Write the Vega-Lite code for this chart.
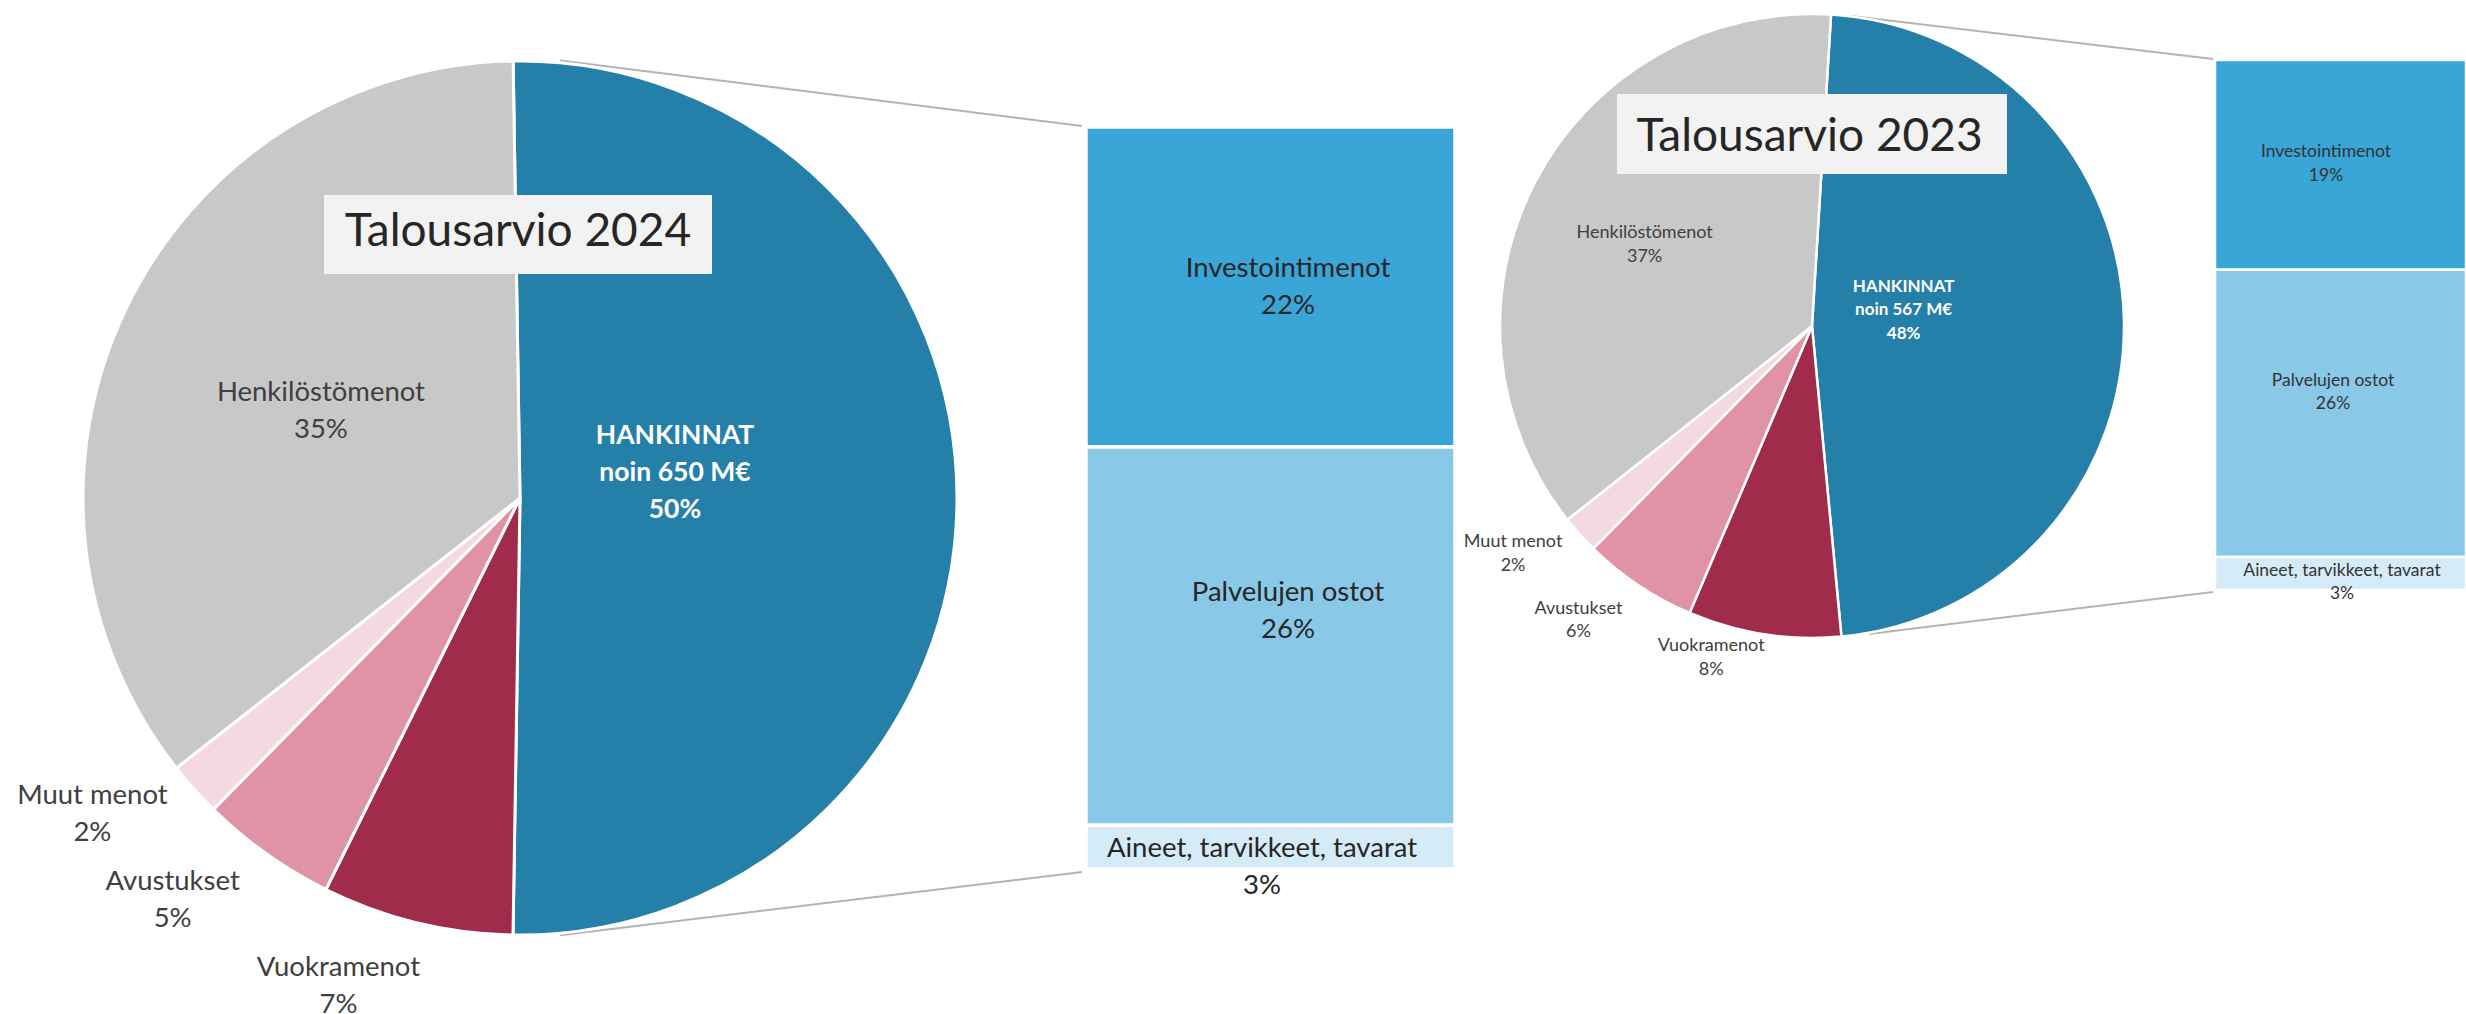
{
  "$schema": "https://vega.github.io/schema/vega-lite/v6.json",
  "padding": 0,
  "spacing": 0,
  "bounds": "flush",
  "background": "white",
  "config": {"view": {"stroke": null}, "font": "Lato", "text": {"font": "Lato"}},
  "resolve": {"scale": {"theta": "independent", "color": "independent", "x": "independent", "y": "independent"}},
  "datasets": {
    "pie2024": [
      {"category": "HANKINNAT", "share": 0.50, "idx": 1, "label": "HANKINNAT\nnoin 650 M€\n50%"},
      {"category": "Vuokramenot", "share": 0.07, "idx": 2, "label": "Vuokramenot\n7%"},
      {"category": "Avustukset", "share": 0.05, "idx": 3, "label": "Avustukset\n5%"},
      {"category": "Muut menot", "share": 0.02, "idx": 4, "label": "Muut menot\n2%"},
      {"category": "Henkilöstömenot", "share": 0.35, "idx": 5, "label": "Henkilöstömenot\n35%"}
    ],
    "pie2023": [
      {"category": "HANKINNAT", "share": 0.48, "idx": 1, "label": "HANKINNAT\nnoin 567 M€\n48%"},
      {"category": "Vuokramenot", "share": 0.08, "idx": 2, "label": "Vuokramenot\n8%"},
      {"category": "Avustukset", "share": 0.06, "idx": 3, "label": "Avustukset\n6%"},
      {"category": "Muut menot", "share": 0.02, "idx": 4, "label": "Muut menot\n2%"},
      {"category": "Henkilöstömenot", "share": 0.37, "idx": 5, "label": "Henkilöstömenot\n37%"}
    ],
    "bar2024": [
      {"year": "2024", "category": "Investointimenot", "share": 0.22, "idx": 1, "label": "Investointimenot\n22%"},
      {"year": "2024", "category": "Palvelujen ostot", "share": 0.26, "idx": 2, "label": "Palvelujen ostot\n26%"},
      {"year": "2024", "category": "Aineet, tarvikkeet, tavarat", "share": 0.03, "idx": 3, "label": "Aineet, tarvikkeet, tavarat\n3%"}
    ],
    "bar2023": [
      {"year": "2023", "category": "Investointimenot", "share": 0.19, "idx": 1, "label": "Investointimenot\n19%"},
      {"year": "2023", "category": "Palvelujen ostot", "share": 0.26, "idx": 2, "label": "Palvelujen ostot\n26%"},
      {"year": "2023", "category": "Aineet, tarvikkeet, tavarat", "share": 0.03, "idx": 3, "label": "Aineet, tarvikkeet, tavarat\n3%"}
    ],
    "titles": [
      {"year": 2024, "title": "Talousarvio 2024"},
      {"year": 2023, "title": "Talousarvio 2023"}
    ]
  },
  "hconcat": [
    {
      "width": 1040,
      "height": 996,
      "layer": [
        {
          "data": {"values": [{}]},
          "mark": {"type": "rule", "color": "#b4b4b4", "strokeWidth": 2},
          "encoding": {
            "x": {"datum": 0.0915, "type": "quantitative", "axis": null, "scale": {"domain": [-1.189931, 1.189931], "nice": false, "zero": false}},
            "y": {"datum": 1.00114, "type": "quantitative", "axis": null, "scale": {"domain": [-1.139588, 1.139588], "nice": false, "zero": false}},
            "x2": {"datum": 1.28604},
            "y2": {"datum": 0.85126}
          }
        },
        {
          "data": {"values": [{}]},
          "mark": {"type": "rule", "color": "#b4b4b4", "strokeWidth": 2},
          "encoding": {
            "x": {"datum": 0.0915, "type": "quantitative", "axis": null, "scale": {"domain": [-1.189931, 1.189931], "nice": false, "zero": false}},
            "y": {"datum": -1.00046, "type": "quantitative", "axis": null, "scale": {"domain": [-1.139588, 1.139588], "nice": false, "zero": false}},
            "x2": {"datum": 1.28604},
            "y2": {"datum": -0.85584}
          }
        },
        {
          "data": {"name": "pie2024"},
          "mark": {"type": "arc", "outerRadius": 437, "stroke": "white", "strokeWidth": 3},
          "encoding": {
            "theta": {"field": "share", "type": "quantitative", "stack": true, "scale": {"range": [-0.0157, 6.267485]}},
            "order": {"field": "idx", "type": "quantitative"},
            "color": {"field": "category", "type": "nominal", "legend": null,
              "scale": {"domain": ["HANKINNAT", "Vuokramenot", "Avustukset", "Muut menot", "Henkilöstömenot", "Investointimenot", "Palvelujen ostot", "Aineet, tarvikkeet, tavarat"],
                        "range": ["#2580a9", "#a02b4b", "#e092a7", "#f5d9e0", "#c8c8c8", "#3aa5d7", "#89c8e7", "#d5ebf7"]}}
          }
        },
        {
          "data": {"name": "pie2024"},
          "mark": {"type": "text", "radius": 157, "thetaOffset": -0.1606, "dy": -37, "fontSize": 26.5, "fontWeight": "bold", "color": "white", "lineBreak": "\n", "lineHeight": 37, "align": "center", "baseline": "middle"},
          "encoding": {
            "theta": {"field": "share", "type": "quantitative", "stack": true, "scale": {"range": [-0.0157, 6.267485]}},
            "order": {"field": "idx", "type": "quantitative"},
            "detail": {"field": "category"},
            "text": {"condition": {"test": "datum.category === 'HANKINNAT'", "field": "label"}, "value": ""}
          }
        },
        {
          "data": {"name": "pie2024"},
          "mark": {"type": "text", "radius": 217, "thetaOffset": -0.035, "dy": -18.5, "fontSize": 27.5, "color": "#404040", "lineBreak": "\n", "lineHeight": 37, "align": "center", "baseline": "middle"},
          "encoding": {
            "theta": {"field": "share", "type": "quantitative", "stack": true, "scale": {"range": [-0.0157, 6.267485]}},
            "order": {"field": "idx", "type": "quantitative"},
            "detail": {"field": "category"},
            "text": {"condition": {"test": "datum.category === 'Henkilöstömenot'", "field": "label"}, "value": ""}
          }
        },
        {
          "data": {"name": "pie2024"},
          "mark": {"type": "text", "radius": 532, "thetaOffset": 0.0925, "dy": -18.5, "fontSize": 27.5, "color": "#404040", "lineBreak": "\n", "lineHeight": 37, "align": "center", "baseline": "middle"},
          "encoding": {
            "theta": {"field": "share", "type": "quantitative", "stack": true, "scale": {"range": [-0.0157, 6.267485]}},
            "order": {"field": "idx", "type": "quantitative"},
            "detail": {"field": "category"},
            "text": {"condition": {"test": "indexof(['Avustukset', 'Muut menot'], datum.category) >= 0", "field": "label"}, "value": ""}
          }
        },
        {
          "data": {"name": "pie2024"},
          "mark": {"type": "text", "radius": 521, "thetaOffset": 0.1178, "dy": -18.5, "fontSize": 27.5, "color": "#404040", "lineBreak": "\n", "lineHeight": 37, "align": "center", "baseline": "middle"},
          "encoding": {
            "theta": {"field": "share", "type": "quantitative", "stack": true, "scale": {"range": [-0.0157, 6.267485]}},
            "order": {"field": "idx", "type": "quantitative"},
            "detail": {"field": "category"},
            "text": {"condition": {"test": "datum.category === 'Vuokramenot'", "field": "label"}, "value": ""}
          }
        },
        {
          "data": {"name": "titles"},
          "transform": [{"filter": "datum.year === 2024"}],
          "mark": {"type": "rect", "color": "#f2f2f2"},
          "encoding": {
            "x": {"datum": -0.44851, "type": "quantitative", "axis": null, "scale": {"domain": [-1.189931, 1.189931], "nice": false, "zero": false}},
            "x2": {"datum": 0.43936},
            "y": {"datum": 0.69336, "type": "quantitative", "axis": null, "scale": {"domain": [-1.139588, 1.139588], "nice": false, "zero": false}},
            "y2": {"datum": 0.51259}
          }
        },
        {
          "data": {"name": "titles"},
          "transform": [{"filter": "datum.year === 2024"}],
          "mark": {"type": "text", "fontSize": 46, "color": "#262626", "align": "center", "baseline": "alphabetic"},
          "encoding": {
            "x": {"datum": -0.0046, "type": "quantitative", "axis": null, "scale": {"domain": [-1.189931, 1.189931], "nice": false, "zero": false}},
            "y": {"datum": 0.57735, "type": "quantitative", "axis": null, "scale": {"domain": [-1.139588, 1.139588], "nice": false, "zero": false}},
            "text": {"field": "title", "type": "nominal"}
          }
        }
      ]
    },
    {
      "width": 435,
      "height": 1014,
      "layer": [
        {
          "data": {"name": "bar2024"},
          "mark": {"type": "bar", "stroke": "white", "strokeWidth": 3.5},
          "encoding": {
            "x": {"field": "year", "type": "nominal", "axis": null, "scale": {"paddingInner": 0, "paddingOuter": 0.08943, "align": 0.69697}},
            "y": {"field": "share", "type": "quantitative", "stack": true, "axis": null, "scale": {"domain": [-0.08729, 0.60966], "reverse": true, "nice": false, "zero": false}},
            "order": {"field": "idx", "type": "quantitative"},
            "color": {"field": "category", "type": "nominal", "legend": null,
              "scale": {"domain": ["HANKINNAT", "Vuokramenot", "Avustukset", "Muut menot", "Henkilöstömenot", "Investointimenot", "Palvelujen ostot", "Aineet, tarvikkeet, tavarat"],
                        "range": ["#2580a9", "#a02b4b", "#e092a7", "#f5d9e0", "#c8c8c8", "#3aa5d7", "#89c8e7", "#d5ebf7"]}}
          }
        },
        {
          "data": {"name": "bar2024"},
          "mark": {"type": "text", "fontSize": 27.5, "color": "#262626", "lineBreak": "\n", "lineHeight": 37, "align": "center", "baseline": "middle", "dx": 17.5, "dy": -18.5},
          "encoding": {
            "x": {"field": "year", "type": "nominal", "axis": null, "scale": {"paddingInner": 0, "paddingOuter": 0.08943, "align": 0.69697}},
            "y": {"field": "share", "type": "quantitative", "stack": true, "bandPosition": 0.5, "axis": null, "scale": {"domain": [-0.08729, 0.60966], "reverse": true, "nice": false, "zero": false}},
            "order": {"field": "idx", "type": "quantitative"},
            "detail": {"field": "category"},
            "text": {"condition": {"test": "datum.category === 'Investointimenot'", "field": "label"}, "value": ""}
          }
        },
        {
          "data": {"name": "bar2024"},
          "mark": {"type": "text", "fontSize": 27.5, "color": "#262626", "lineBreak": "\n", "lineHeight": 37, "align": "center", "baseline": "middle", "dx": 17.5, "dy": -43.5},
          "encoding": {
            "x": {"field": "year", "type": "nominal", "axis": null, "scale": {"paddingInner": 0, "paddingOuter": 0.08943, "align": 0.69697}},
            "y": {"field": "share", "type": "quantitative", "stack": true, "bandPosition": 0.5, "axis": null, "scale": {"domain": [-0.08729, 0.60966], "reverse": true, "nice": false, "zero": false}},
            "order": {"field": "idx", "type": "quantitative"},
            "detail": {"field": "category"},
            "text": {"condition": {"test": "datum.category === 'Palvelujen ostot'", "field": "label"}, "value": ""}
          }
        },
        {
          "data": {"name": "bar2024"},
          "mark": {"type": "text", "fontSize": 27.5, "color": "#262626", "lineBreak": "\n", "lineHeight": 37, "align": "center", "baseline": "middle", "dx": -8.5, "dy": 2},
          "encoding": {
            "x": {"field": "year", "type": "nominal", "axis": null, "scale": {"paddingInner": 0, "paddingOuter": 0.08943, "align": 0.69697}},
            "y": {"field": "share", "type": "quantitative", "stack": true, "bandPosition": 0.5, "axis": null, "scale": {"domain": [-0.08729, 0.60966], "reverse": true, "nice": false, "zero": false}},
            "order": {"field": "idx", "type": "quantitative"},
            "detail": {"field": "category"},
            "text": {"condition": {"test": "datum.category === 'Aineet, tarvikkeet, tavarat'", "field": "label"}, "value": ""}
          }
        }
      ]
    },
    {
      "width": 674,
      "height": 652,
      "layer": [
        {
          "data": {"values": [{}]},
          "mark": {"type": "rule", "color": "#b4b4b4", "strokeWidth": 2},
          "encoding": {
            "x": {"datum": 0.125, "type": "quantitative", "axis": null, "scale": {"domain": [-1.080128, 1.080128], "nice": false, "zero": false}},
            "y": {"datum": 0.99359, "type": "quantitative", "axis": null, "scale": {"domain": [-1.044872, 1.044872], "nice": false, "zero": false}},
            "x2": {"datum": 1.28526},
            "y2": {"datum": 0.85577}
          }
        },
        {
          "data": {"values": [{}]},
          "mark": {"type": "rule", "color": "#b4b4b4", "strokeWidth": 2},
          "encoding": {
            "x": {"datum": 0.18269, "type": "quantitative", "axis": null, "scale": {"domain": [-1.080128, 1.080128], "nice": false, "zero": false}},
            "y": {"datum": -0.98718, "type": "quantitative", "axis": null, "scale": {"domain": [-1.044872, 1.044872], "nice": false, "zero": false}},
            "x2": {"datum": 1.28526},
            "y2": {"datum": -0.85256}
          }
        },
        {
          "data": {"name": "pie2023"},
          "mark": {"type": "arc", "outerRadius": 312, "stroke": "white", "strokeWidth": 2.5},
          "encoding": {
            "theta": {"field": "share", "type": "quantitative", "stack": true, "scale": {"range": [0.061087, 6.344272]}},
            "order": {"field": "idx", "type": "quantitative"},
            "color": {"field": "category", "type": "nominal", "legend": null,
              "scale": {"domain": ["HANKINNAT", "Vuokramenot", "Avustukset", "Muut menot", "Henkilöstömenot", "Investointimenot", "Palvelujen ostot", "Aineet, tarvikkeet, tavarat"],
                        "range": ["#2580a9", "#a02b4b", "#e092a7", "#f5d9e0", "#c8c8c8", "#3aa5d7", "#89c8e7", "#d5ebf7"]}}
          }
        },
        {
          "data": {"name": "pie2023"},
          "mark": {"type": "text", "radius": 93, "thetaOffset": -0.156, "dy": -23.5, "fontSize": 17, "fontWeight": "bold", "color": "white", "lineBreak": "\n", "lineHeight": 23.5, "align": "center", "baseline": "middle"},
          "encoding": {
            "theta": {"field": "share", "type": "quantitative", "stack": true, "scale": {"range": [0.061087, 6.344272]}},
            "order": {"field": "idx", "type": "quantitative"},
            "detail": {"field": "category"},
            "text": {"condition": {"test": "datum.category === 'HANKINNAT'", "field": "label"}, "value": ""}
          }
        },
        {
          "data": {"name": "pie2023"},
          "mark": {"type": "text", "radius": 186, "thetaOffset": -0.03, "dy": -11.75, "fontSize": 18, "color": "#404040", "lineBreak": "\n", "lineHeight": 23.5, "align": "center", "baseline": "middle"},
          "encoding": {
            "theta": {"field": "share", "type": "quantitative", "stack": true, "scale": {"range": [0.061087, 6.344272]}},
            "order": {"field": "idx", "type": "quantitative"},
            "detail": {"field": "category"},
            "text": {"condition": {"test": "datum.category === 'Henkilöstömenot'", "field": "label"}, "value": ""}
          }
        },
        {
          "data": {"name": "pie2023"},
          "mark": {"type": "text", "radius": 376, "thetaOffset": 0.0803, "dy": -11.75, "fontSize": 18, "color": "#404040", "lineBreak": "\n", "lineHeight": 23.5, "align": "center", "baseline": "middle"},
          "encoding": {
            "theta": {"field": "share", "type": "quantitative", "stack": true, "scale": {"range": [0.061087, 6.344272]}},
            "order": {"field": "idx", "type": "quantitative"},
            "detail": {"field": "category"},
            "text": {"condition": {"test": "indexof(['Avustukset', 'Muut menot'], datum.category) >= 0", "field": "label"}, "value": ""}
          }
        },
        {
          "data": {"name": "pie2023"},
          "mark": {"type": "text", "radius": 347, "thetaOffset": 0.1405, "dy": -11.75, "fontSize": 18, "color": "#404040", "lineBreak": "\n", "lineHeight": 23.5, "align": "center", "baseline": "middle"},
          "encoding": {
            "theta": {"field": "share", "type": "quantitative", "stack": true, "scale": {"range": [0.061087, 6.344272]}},
            "order": {"field": "idx", "type": "quantitative"},
            "detail": {"field": "category"},
            "text": {"condition": {"test": "datum.category === 'Vuokramenot'", "field": "label"}, "value": ""}
          }
        },
        {
          "data": {"name": "titles"},
          "transform": [{"filter": "datum.year === 2023"}],
          "mark": {"type": "rect", "color": "#f2f2f2"},
          "encoding": {
            "x": {"datum": -0.625, "type": "quantitative", "axis": null, "scale": {"domain": [-1.080128, 1.080128], "nice": false, "zero": false}},
            "x2": {"datum": 0.625},
            "y": {"datum": 0.7436, "type": "quantitative", "axis": null, "scale": {"domain": [-1.044872, 1.044872], "nice": false, "zero": false}},
            "y2": {"datum": 0.4872}
          }
        },
        {
          "data": {"name": "titles"},
          "transform": [{"filter": "datum.year === 2023"}],
          "mark": {"type": "text", "fontSize": 46, "color": "#262626", "align": "center", "baseline": "alphabetic"},
          "encoding": {
            "x": {"datum": -0.008, "type": "quantitative", "axis": null, "scale": {"domain": [-1.080128, 1.080128], "nice": false, "zero": false}},
            "y": {"datum": 0.5609, "type": "quantitative", "axis": null, "scale": {"domain": [-1.044872, 1.044872], "nice": false, "zero": false}},
            "text": {"field": "title", "type": "nominal"}
          }
        }
      ]
    },
    {
      "width": 317,
      "height": 1014,
      "layer": [
        {
          "data": {"name": "bar2023"},
          "mark": {"type": "bar", "stroke": "white", "strokeWidth": 2.5, "clip": true},
          "encoding": {
            "x": {"field": "year", "type": "nominal", "axis": null, "scale": {"paddingInner": 0, "paddingOuter": 0.131474, "align": 1}},
            "y": {"field": "share", "type": "quantitative", "stack": true, "axis": null, "scale": {"domain": [-0.05434, 0.86399], "reverse": true, "nice": false, "zero": false}},
            "order": {"field": "idx", "type": "quantitative"},
            "color": {"field": "category", "type": "nominal", "legend": null,
              "scale": {"domain": ["HANKINNAT", "Vuokramenot", "Avustukset", "Muut menot", "Henkilöstömenot", "Investointimenot", "Palvelujen ostot", "Aineet, tarvikkeet, tavarat"],
                        "range": ["#2580a9", "#a02b4b", "#e092a7", "#f5d9e0", "#c8c8c8", "#3aa5d7", "#89c8e7", "#d5ebf7"]}}
          }
        },
        {
          "data": {"name": "bar2023"},
          "mark": {"type": "text", "fontSize": 17.5, "color": "#333333", "lineBreak": "\n", "lineHeight": 23.5, "align": "center", "baseline": "middle", "dx": -14.5, "dy": -12.75},
          "encoding": {
            "x": {"field": "year", "type": "nominal", "axis": null, "scale": {"paddingInner": 0, "paddingOuter": 0.131474, "align": 1}},
            "y": {"field": "share", "type": "quantitative", "stack": true, "bandPosition": 0.5, "axis": null, "scale": {"domain": [-0.05434, 0.86399], "reverse": true, "nice": false, "zero": false}},
            "order": {"field": "idx", "type": "quantitative"},
            "detail": {"field": "category"},
            "text": {"condition": {"test": "datum.category === 'Investointimenot'", "field": "label"}, "value": ""}
          }
        },
        {
          "data": {"name": "bar2023"},
          "mark": {"type": "text", "fontSize": 17.5, "color": "#333333", "lineBreak": "\n", "lineHeight": 23.5, "align": "center", "baseline": "middle", "dx": -7.5, "dy": -32.75},
          "encoding": {
            "x": {"field": "year", "type": "nominal", "axis": null, "scale": {"paddingInner": 0, "paddingOuter": 0.131474, "align": 1}},
            "y": {"field": "share", "type": "quantitative", "stack": true, "bandPosition": 0.5, "axis": null, "scale": {"domain": [-0.05434, 0.86399], "reverse": true, "nice": false, "zero": false}},
            "order": {"field": "idx", "type": "quantitative"},
            "detail": {"field": "category"},
            "text": {"condition": {"test": "datum.category === 'Palvelujen ostot'", "field": "label"}, "value": ""}
          }
        },
        {
          "data": {"name": "bar2023"},
          "mark": {"type": "text", "fontSize": 17.5, "color": "#333333", "lineBreak": "\n", "lineHeight": 23.5, "align": "center", "baseline": "middle", "dx": 1.5, "dy": -2.75},
          "encoding": {
            "x": {"field": "year", "type": "nominal", "axis": null, "scale": {"paddingInner": 0, "paddingOuter": 0.131474, "align": 1}},
            "y": {"field": "share", "type": "quantitative", "stack": true, "bandPosition": 0.5, "axis": null, "scale": {"domain": [-0.05434, 0.86399], "reverse": true, "nice": false, "zero": false}},
            "order": {"field": "idx", "type": "quantitative"},
            "detail": {"field": "category"},
            "text": {"condition": {"test": "datum.category === 'Aineet, tarvikkeet, tavarat'", "field": "label"}, "value": ""}
          }
        }
      ]
    }
  ]
}
